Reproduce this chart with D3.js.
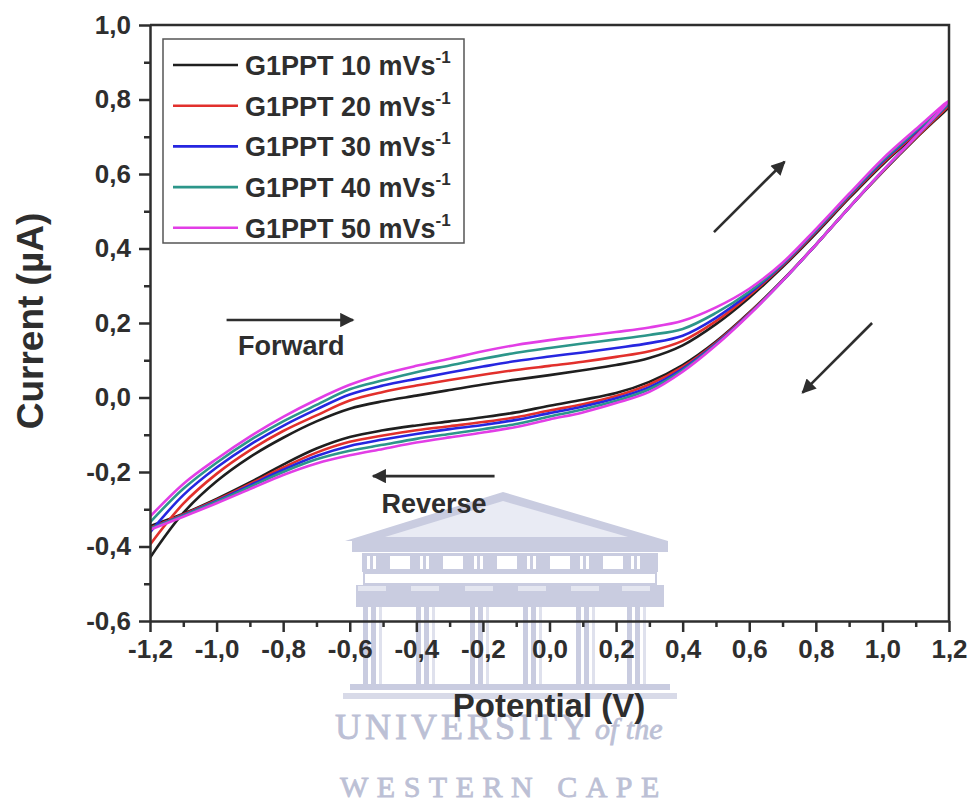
<!DOCTYPE html>
<html lang="en">
<head>
    <meta charset="UTF-8">
    <script src="https://cdn.jsdelivr.net/npm/d3@7/dist/d3.min.js"></script>
    <title>G1PPT cyclic voltammetry</title>
    <style>
        * { margin: 0; padding: 0; box-sizing: border-box; }
        body, html { width: 970px; height: 805px; background: #fff; }
        svg { display: block; font-family: "Liberation Sans", Arial, sans-serif; }
    </style>
</head>
<body>
    <svg id="chart" width="970" height="805"></svg>
    <script type="text/javascript">
      // potential grid (V)
      var potential = [-1.2, -1.1, -1.0, -0.9, -0.8, -0.7, -0.6, -0.5, -0.4, -0.3, -0.2, -0.1,
                       0.0, 0.1, 0.2, 0.3, 0.4, 0.5, 0.6, 0.7, 0.8, 0.9, 1.0, 1.1, 1.2];

      // forward scan current (uA)
      var fwd10 = [-0.43, -0.31, -0.225, -0.16, -0.108, -0.064, -0.03, -0.01, 0.005, 0.02, 0.035, 0.048,
                   0.06, 0.073, 0.087, 0.106, 0.14, 0.197, 0.268, 0.35, 0.44, 0.535, 0.625, 0.705, 0.78];
      var fwd20 = [-0.395, -0.285, -0.205, -0.142, -0.09, -0.048, -0.008, 0.015, 0.032, 0.047, 0.061, 0.074,
                   0.085, 0.096, 0.109, 0.124, 0.152, 0.205, 0.274, 0.354, 0.444, 0.539, 0.629, 0.709, 0.785];
      var fwd30 = [-0.362, -0.262, -0.188, -0.127, -0.076, -0.032, 0.008, 0.032, 0.05, 0.067, 0.083, 0.098,
                   0.11, 0.121, 0.133, 0.146, 0.166, 0.214, 0.279, 0.357, 0.447, 0.542, 0.633, 0.713, 0.79];
      var fwd40 = [-0.335, -0.245, -0.175, -0.115, -0.064, -0.02, 0.022, 0.046, 0.068, 0.086, 0.104, 0.12,
                   0.133, 0.145, 0.156, 0.168, 0.184, 0.227, 0.284, 0.359, 0.449, 0.544, 0.636, 0.716, 0.792];
      var fwd50 = [-0.32, -0.232, -0.165, -0.105, -0.052, -0.006, 0.034, 0.063, 0.085, 0.104, 0.124, 0.141,
                   0.154, 0.165, 0.176, 0.188, 0.206, 0.242, 0.292, 0.362, 0.452, 0.547, 0.64, 0.72, 0.797];

      // reverse scan current (uA), same potential grid
      var rev10 = [-0.345, -0.312, -0.272, -0.228, -0.18, -0.137, -0.106, -0.088, -0.075, -0.064, -0.053, -0.04,
                   -0.022, -0.006, 0.012, 0.042, 0.087, 0.15, 0.228, 0.315, 0.41, 0.51, 0.605, 0.695, 0.78];
      var rev20 = [-0.35, -0.314, -0.275, -0.232, -0.188, -0.148, -0.119, -0.102, -0.088, -0.077, -0.066, -0.053,
                   -0.035, -0.018, 0.004, 0.035, 0.082, 0.147, 0.226, 0.314, 0.41, 0.51, 0.605, 0.697, 0.785];
      var rev30 = [-0.352, -0.316, -0.278, -0.236, -0.194, -0.157, -0.13, -0.113, -0.098, -0.085, -0.074, -0.06,
                   -0.042, -0.024, -0.002, 0.028, 0.077, 0.144, 0.224, 0.313, 0.41, 0.51, 0.607, 0.7, 0.79];
      var rev40 = [-0.352, -0.317, -0.28, -0.24, -0.2, -0.166, -0.143, -0.127, -0.111, -0.098, -0.085, -0.071,
                   -0.051, -0.032, -0.009, 0.022, 0.073, 0.142, 0.223, 0.313, 0.41, 0.51, 0.607, 0.7, 0.792];
      var rev50 = [-0.355, -0.32, -0.284, -0.246, -0.208, -0.177, -0.155, -0.138, -0.121, -0.107, -0.094, -0.079,
                   -0.059, -0.04, -0.015, 0.015, 0.069, 0.14, 0.222, 0.313, 0.41, 0.51, 0.608, 0.7, 0.797];

      var seriesNames = ['G1PPT 10 mVs', 'G1PPT 20 mVs', 'G1PPT 30 mVs', 'G1PPT 40 mVs', 'G1PPT 50 mVs'];
      var seriesColors = ['#1f1f1f', '#e2302c', '#2626e0', '#2c968a', '#e23ee6'];
      var forwardSets = [fwd10, fwd20, fwd30, fwd40, fwd50];
      var reverseSets = [rev10, rev20, rev30, rev40, rev50];

      var xTicks = [-1.2, -1.0, -0.8, -0.6, -0.4, -0.2, 0.0, 0.2, 0.4, 0.6, 0.8, 1.0, 1.2];
      var yTicks = [-0.6, -0.4, -0.2, 0.0, 0.2, 0.4, 0.6, 0.8, 1.0];

      // annotations in data units: [x1, y1, x2, y2]
      var arrows = [
        [-0.97, 0.208, -0.59, 0.208],
        [-0.165, -0.211, -0.53, -0.211],
        [0.494, 0.444, 0.706, 0.633],
        [0.969, 0.2, 0.76, 0.013]
      ];
      var notes = [
        { text: 'Forward', x: -0.776, y: 0.114 },
        { text: 'Reverse', x: -0.347, y: -0.31 }
      ];

      var ink = '#2e2e2e';
      var plotLeft = 150, plotRight = 949, plotTop = 25, plotBottom = 621;

      var svg = d3.select('#chart');
      svg.append('rect').attr('width', 970).attr('height', 805).attr('fill', '#fff');

      var x = d3.scaleLinear().domain([-1.2, 1.2]).range([plotLeft, plotRight]);
      var y = d3.scaleLinear().domain([-0.6, 1.0]).range([plotBottom, plotTop]);
      var fmt = function (d) { return d3.format('.1f')(d).replace('.', ',').replace('−', '-'); };

      // university watermark, behind everything
      var wm = svg.append('g').attr('fill', '#c9cce0');
      wm.append('polygon').attr('points', '345,541 503,492 668,541');
      wm.append('polygon').attr('points', '385,537 503,501 628,537').attr('fill', '#e9ebf4');
      wm.append('rect').attr('x', 352).attr('y', 541).attr('width', 316).attr('height', 11);
      wm.append('rect').attr('x', 362).attr('y', 553).attr('width', 296).attr('height', 19);
      [390, 443, 497, 550, 603].forEach(function (wx) {
        wm.append('rect').attr('x', wx).attr('y', 556).attr('width', 20).attr('height', 13).attr('fill', '#fff');
      });
      [372, 425, 479, 532, 585, 636].forEach(function (wx) {
        wm.append('rect').attr('x', wx - 5).attr('y', 556).attr('width', 3).attr('height', 13).attr('fill', '#fff');
        wm.append('rect').attr('x', wx + 1).attr('y', 556).attr('width', 3).attr('height', 13).attr('fill', '#fff');
      });
      wm.append('rect').attr('x', 364).attr('y', 573).attr('width', 292).attr('height', 11)
        .attr('fill', '#fff').attr('stroke', '#c9cce0').attr('stroke-width', 2);
      wm.append('rect').attr('x', 356).attr('y', 585).attr('width', 308).attr('height', 22);
      [372, 425, 479, 532, 585, 636].forEach(function (cx) {
        wm.append('rect').attr('x', cx - 14).attr('y', 586).attr('width', 28).attr('height', 5).attr('fill', '#e4e6f0');
        wm.append('rect').attr('x', cx - 9).attr('y', 607).attr('width', 5).attr('height', 77);
        wm.append('rect').attr('x', cx - 1).attr('y', 607).attr('width', 5).attr('height', 77);
        wm.append('rect').attr('x', cx + 7).attr('y', 607).attr('width', 3).attr('height', 77).attr('fill', '#dfe1ed');
      });
      wm.append('rect').attr('x', 350).attr('y', 684).attr('width', 320).attr('height', 6);
      wm.append('rect').attr('x', 343).attr('y', 693).attr('width', 334).attr('height', 6).attr('fill', '#d8dae8');

      var wmText = svg.append('g').attr('fill', '#bcc0d5').attr('stroke', '#bcc0d5').attr('stroke-width', 0.8)
        .style('font-family', '"Liberation Serif", "DejaVu Serif", serif');
      var uni = wmText.append('text').attr('x', 335).attr('y', 739)
        .style('font-size', '36px').style('letter-spacing', '4px');
      uni.append('tspan').text('UNIVERSITY');
      uni.append('tspan').attr('dx', 4).style('font-style', 'italic').style('font-size', '30px')
        .style('letter-spacing', '0px').text('of the');
      wmText.append('text').attr('x', 340).attr('y', 797)
        .style('font-size', '30px').style('letter-spacing', '8.5px').text('WESTERN CAPE');

      // curves
      var clipId = 'plot-clip';
      svg.append('clipPath').attr('id', clipId).append('rect')
        .attr('x', plotLeft).attr('y', plotTop).attr('width', plotRight - plotLeft).attr('height', plotBottom - plotTop);

      var line = d3.line()
        .x(function (d) { return x(d[0]); })
        .y(function (d) { return y(d[1]); })
        .curve(d3.curveCatmullRom.alpha(0.5));

      var curves = svg.append('g').attr('clip-path', 'url(#' + clipId + ')');
      forwardSets.forEach(function (fwd, i) {
        var pts = potential.map(function (v, k) { return [v, fwd[k]]; });
        var back = potential.map(function (v, k) { return [v, reverseSets[i][k]]; }).reverse();
        curves.append('path')
          .attr('d', line(pts.concat(back.slice(1))))
          .attr('fill', 'none')
          .attr('stroke', seriesColors[i])
          .attr('stroke-width', 2.6)
          .attr('stroke-linejoin', 'round');
      });

      // frame
      svg.append('path')
        .attr('d', 'M' + plotLeft + ',' + plotTop + 'H' + plotRight + 'V' + plotBottom)
        .attr('fill', 'none').attr('stroke', ink).attr('stroke-width', 2.5);

      // axes
      var minorX = d3.range(-1.1, 1.2, 0.2).map(function (d) { return +d.toFixed(1); });
      var minorY = d3.range(-0.5, 1.0, 0.2).map(function (d) { return +d.toFixed(1); });

      svg.append('g').attr('transform', 'translate(0,' + plotBottom + ')')
        .call(d3.axisBottom(x).tickValues(xTicks).tickFormat(fmt).tickSizeInner(11).tickSizeOuter(0).tickPadding(8));
      svg.append('g').attr('transform', 'translate(0,' + plotBottom + ')')
        .call(d3.axisBottom(x).tickValues(minorX).tickFormat('').tickSizeInner(6).tickSizeOuter(0))
        .select('.domain').remove();

      svg.append('g').attr('transform', 'translate(' + plotLeft + ',0)')
        .call(d3.axisLeft(y).tickValues(yTicks).tickFormat(fmt).tickSizeInner(11).tickSizeOuter(0).tickPadding(8));
      svg.append('g').attr('transform', 'translate(' + plotLeft + ',0)')
        .call(d3.axisLeft(y).tickValues(minorY).tickFormat('').tickSizeInner(6).tickSizeOuter(0))
        .select('.domain').remove();

      svg.selectAll('.domain').attr('stroke', ink).attr('stroke-width', 2.5);
      svg.selectAll('.tick line').attr('stroke', ink).attr('stroke-width', 2.5);
      svg.selectAll('.tick text')
        .attr('fill', ink)
        .style('font-size', '26px')
        .style('font-weight', 'bold')
        .style('font-family', '"Liberation Sans", Arial, sans-serif');

      // axis titles
      svg.append('text')
        .attr('x', 549).attr('y', 717)
        .attr('text-anchor', 'middle')
        .attr('fill', ink)
        .style('font-size', '33px').style('font-weight', 'bold')
        .text('Potential (V)');
      svg.append('text')
        .attr('transform', 'translate(43,321) rotate(-90)')
        .attr('text-anchor', 'middle')
        .attr('fill', ink)
        .style('font-size', '37px').style('font-weight', 'bold')
        .text('Current (µA)');

      // arrows and notes
      svg.append('defs').append('marker')
        .attr('id', 'head')
        .attr('viewBox', '0 0 10 10')
        .attr('refX', 9).attr('refY', 5)
        .attr('markerWidth', 7).attr('markerHeight', 5.5)
        .attr('markerUnits', 'strokeWidth')
        .attr('orient', 'auto')
        .append('path').attr('d', 'M0,0L10,5L0,10Z').attr('fill', ink);

      svg.append('g').selectAll('line').data(arrows).enter().append('line')
        .attr('x1', function (d) { return x(d[0]); })
        .attr('y1', function (d) { return y(d[1]); })
        .attr('x2', function (d) { return x(d[2]); })
        .attr('y2', function (d) { return y(d[3]); })
        .attr('stroke', ink)
        .attr('stroke-width', 2.6)
        .attr('marker-end', 'url(#head)');

      svg.append('g').selectAll('text').data(notes).enter().append('text')
        .attr('x', function (d) { return x(d.x); })
        .attr('y', function (d) { return y(d.y); })
        .attr('text-anchor', 'middle')
        .attr('fill', ink)
        .style('font-size', '27px').style('font-weight', 'bold')
        .text(function (d) { return d.text; });

      // legend
      var legend = svg.append('g');
      legend.append('rect')
        .attr('x', 163).attr('y', 39).attr('width', 301).attr('height', 204)
        .attr('fill', '#fff').attr('stroke', '#555').attr('stroke-width', 1.5);
      seriesNames.forEach(function (name, i) {
        var ly = 65 + i * 40.7;
        legend.append('line')
          .attr('x1', 173).attr('x2', 238).attr('y1', ly).attr('y2', ly)
          .attr('stroke', seriesColors[i]).attr('stroke-width', 2.6);
        var t = legend.append('text')
          .attr('x', 245).attr('y', ly + 10)
          .attr('fill', ink)
          .style('font-size', '27px').style('font-weight', 'bold');
        t.append('tspan').text(name);
        t.append('tspan').attr('dy', -12).style('font-size', '17px').text('-1');
      });
    </script>
</body>
</html>
